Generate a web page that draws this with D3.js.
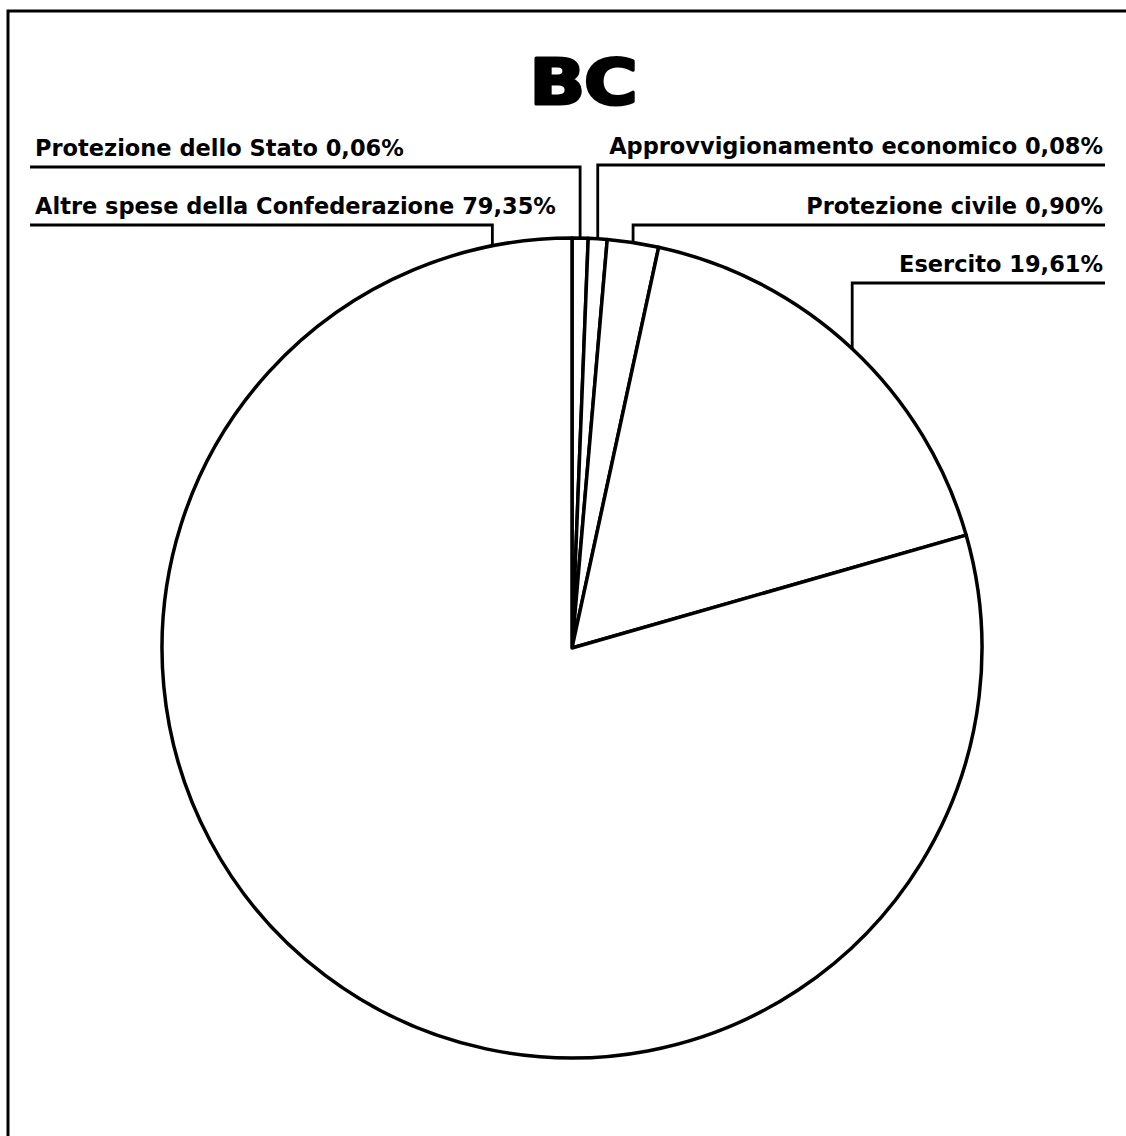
<!DOCTYPE html>
<html>
<head>
<meta charset="utf-8">
<script src="https://cdn.jsdelivr.net/npm/d3@7"></script>
<style>
  body { margin: 0; background: #fff; }
  text { font-family: "DejaVu Sans", sans-serif; font-weight: bold; fill: #000; }
</style>
</head>
<body>
<svg id="svg_pie"></svg>
<script>
// data
const categories = [
  "Protezione dello Stato",
  "Approvvigionamento economico",
  "Protezione civile",
  "Esercito",
  "Altre spese della Confederazione",
];
const percentLabels = ["0,06%", "0,08%", "0,90%", "19,61%", "79,35%"];
// slice shares as drawn in the original (the tiny slices are widened there)
const drawnShares = [0.63, 0.74, 2.02, 17.17, 79.44];

// layout of the labels (not data)
const labelLayout = [
  { side: "left", lineY: 167 },
  { side: "right", lineY: 165 },
  { side: "right", lineY: 225 },
  { side: "right", lineY: 283 },
  { side: "left", lineY: 225, anchorDeg: -11.2 },
];

function pieChart() {
  const width = 1126;
  const height = 1136;
  const cx = 572;
  const cy = 648;
  const radius = 410;

  const svgChart = d3
    .select("#svg_pie")
    .attr("width", width)
    .attr("height", height);

  // frame
  svgChart
    .append("path")
    .attr("d", `M8,${height} L8,11 L${width},11`)
    .attr("fill", "none")
    .attr("stroke", "#000")
    .attr("stroke-width", 3);

  // title
  svgChart
    .append("text")
    .attr("transform", "translate(583,104) scale(1.16,1)")
    .attr("text-anchor", "middle")
    .style("font-size", "63px")
    .style("stroke", "#000")
    .style("stroke-width", 3)
    .style("stroke-linejoin", "round")
    .style("letter-spacing", "-1px")
    .text("BC");

  const data = categories.map((c, i) => ({
    name: c,
    label: `${c} ${percentLabels[i]}`,
    share: drawnShares[i],
    layout: labelLayout[i],
  }));

  const pie = d3.pie().sort(null).value((d) => d.share);
  const arc = d3.arc().innerRadius(0).outerRadius(radius);

  const g = svgChart.append("g").attr("transform", `translate(${cx},${cy})`);

  const arcs = pie(data);

  g.selectAll("path")
    .data(arcs)
    .join("path")
    .attr("d", arc)
    .attr("fill", "#fff")
    .attr("stroke", "#000")
    .attr("stroke-width", 3.5)
    .attr("stroke-linejoin", "round");

  // leader lines + labels
  arcs.forEach((a) => {
    const lay = a.data.layout;
    const ang =
      lay.anchorDeg !== undefined
        ? (lay.anchorDeg * Math.PI) / 180
        : (a.startAngle + a.endAngle) / 2;
    const ax = cx + radius * Math.sin(ang);
    const ay = cy - radius * Math.cos(ang);
    const x0 = lay.side === "left" ? 30 : 1105;

    svgChart
      .append("path")
      .attr("d", `M${x0},${lay.lineY} L${ax},${lay.lineY} L${ax},${ay}`)
      .attr("fill", "none")
      .attr("stroke", "#000")
      .attr("stroke-width", 2.8);

    svgChart
      .append("text")
      .attr("x", lay.side === "left" ? 35 : 1103)
      .attr("y", lay.lineY - 11)
      .attr("text-anchor", lay.side === "left" ? "start" : "end")
      .style("font-size", "22.5px")
      .text(a.data.label);
  });
}

pieChart();
</script>
</body>
</html>
